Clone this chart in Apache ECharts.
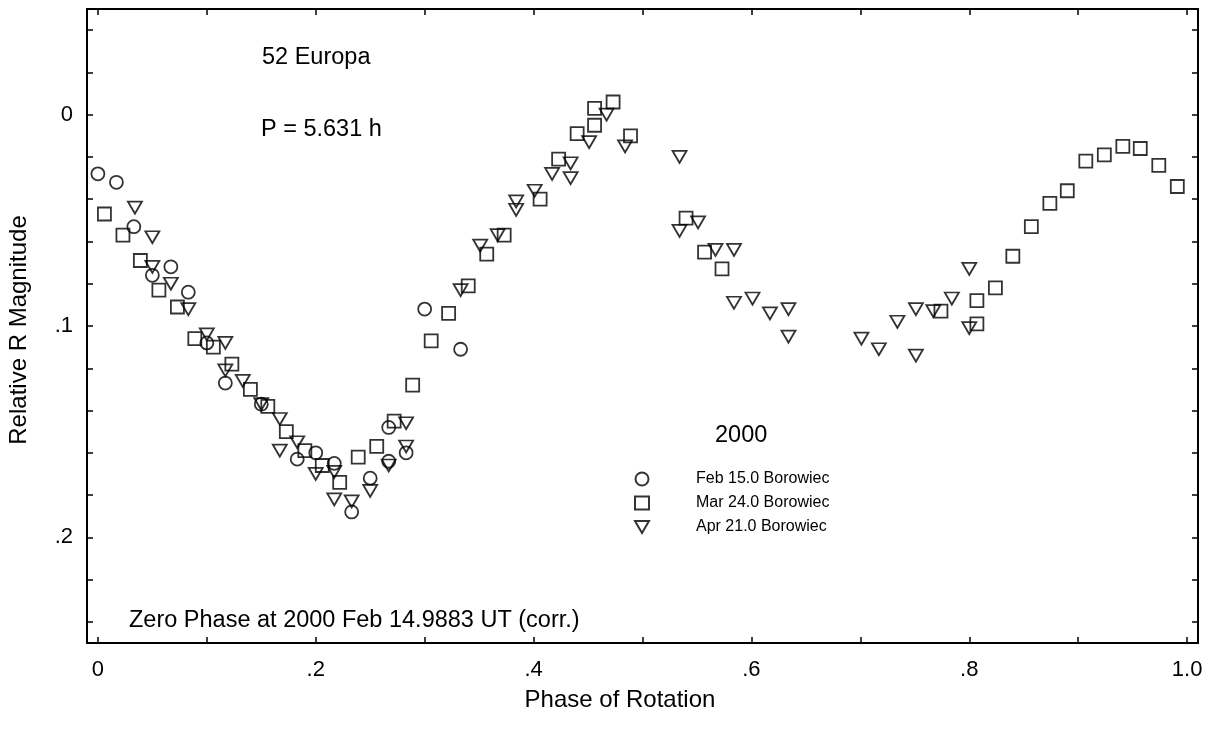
<!DOCTYPE html>
<html>
<head>
<meta charset="utf-8">
<script src="https://cdn.jsdelivr.net/npm/echarts@6/dist/echarts.min.js"></script>
<style>html,body{margin:0;padding:0;background:#fff}#c{width:1208px;height:738px}</style>
</head>
<body>
<div id="c"></div>
<script>
// Feb 15.0 Borowiec (circles)
const febPhase = [0.000, 0.017, 0.033, 0.050, 0.067, 0.083, 0.100, 0.117, 0.150, 0.183, 0.200, 0.217, 0.233, 0.250, 0.267, 0.267, 0.283, 0.300, 0.333];
const febMag   = [0.028, 0.032, 0.053, 0.076, 0.072, 0.084, 0.108, 0.127, 0.137, 0.163, 0.160, 0.165, 0.188, 0.172, 0.148, 0.164, 0.160, 0.092, 0.111];
// Mar 24.0 Borowiec (squares)
const marPhase = [0.006, 0.023, 0.039, 0.056, 0.073, 0.089, 0.106, 0.123, 0.140, 0.156, 0.173, 0.190, 0.206, 0.222, 0.239, 0.256, 0.272, 0.289, 0.306, 0.322, 0.340, 0.357, 0.373, 0.406, 0.423, 0.440, 0.456, 0.456, 0.473, 0.489, 0.540, 0.557, 0.573, 0.774, 0.807, 0.807, 0.824, 0.840, 0.857, 0.874, 0.890, 0.907, 0.924, 0.941, 0.957, 0.974, 0.991];
const marMag   = [0.047, 0.057, 0.069, 0.083, 0.091, 0.106, 0.110, 0.118, 0.130, 0.138, 0.150, 0.159, 0.166, 0.174, 0.162, 0.157, 0.145, 0.128, 0.107, 0.094, 0.081, 0.066, 0.057, 0.040, 0.021, 0.009, -0.003, 0.005, -0.006, 0.010, 0.049, 0.065, 0.073, 0.093, 0.088, 0.099, 0.082, 0.067, 0.053, 0.042, 0.036, 0.022, 0.019, 0.015, 0.016, 0.024, 0.034];
// Apr 21.0 Borowiec (down triangles)
const aprPhase = [0.034, 0.050, 0.050, 0.067, 0.083, 0.100, 0.117, 0.117, 0.133, 0.150, 0.167, 0.167, 0.183, 0.200, 0.217, 0.217, 0.233, 0.250, 0.267, 0.283, 0.283, 0.333, 0.351, 0.367, 0.384, 0.384, 0.401, 0.417, 0.434, 0.434, 0.451, 0.467, 0.484, 0.534, 0.534, 0.551, 0.567, 0.584, 0.584, 0.601, 0.617, 0.634, 0.634, 0.701, 0.717, 0.734, 0.751, 0.751, 0.767, 0.784, 0.800, 0.800];
const aprMag   = [0.044, 0.058, 0.072, 0.080, 0.092, 0.104, 0.108, 0.121, 0.126, 0.137, 0.144, 0.159, 0.155, 0.170, 0.169, 0.182, 0.183, 0.178, 0.166, 0.146, 0.157, 0.083, 0.062, 0.057, 0.045, 0.041, 0.036, 0.028, 0.023, 0.030, 0.013, 0.000, 0.015, 0.020, 0.055, 0.051, 0.064, 0.064, 0.089, 0.087, 0.094, 0.092, 0.105, 0.106, 0.111, 0.098, 0.092, 0.114, 0.093, 0.087, 0.073, 0.101];

const xTicks = [0, 0.1, 0.2, 0.3, 0.4, 0.5, 0.6, 0.7, 0.8, 0.9, 1.0];
const xLabels = [0, 0.2, 0.4, 0.6, 0.8, 1.0];
const yTicks = [-0.04, -0.02, 0, 0.02, 0.04, 0.06, 0.08, 0.10, 0.12, 0.14, 0.16, 0.18, 0.20, 0.22, 0.24];
const yLabels = [0, 0.1, 0.2];

const FONT = "'Liberation Sans', Arial, Helvetica, sans-serif";
const TF = '23.5px ' + FONT;
const zip = (a, b) => a.map((v, i) => [v, b[i]]);
const fmt = v => {
  if (Math.abs(v) < 1e-9) return '0';
  if (Math.abs(v - 1) < 1e-9) return '1.0';
  return '.' + Math.round(v * 10);
};

const axisLine = { show: true, onZero: false, lineStyle: { color: '#000', width: 2 } };
const xBase = (pos, showLabel) => ({
  type: 'value', position: pos, min: -0.01, max: 1.01,
  axisLine, splitLine: { show: false },
  axisTick: { show: true, inside: true, length: 6, customValues: xTicks, lineStyle: { color: '#000', width: 1.5 } },
  axisLabel: { show: showLabel, customValues: xLabels, formatter: fmt, margin: 16, color: '#000', fontSize: 22, fontFamily: FONT }
});
const yBase = (pos, showLabel) => ({
  type: 'value', position: pos, min: -0.05, max: 0.25, inverse: true,
  axisLine, splitLine: { show: false },
  axisTick: { show: true, inside: true, length: 6, customValues: yTicks, lineStyle: { color: '#000', width: 1.5 } },
  axisLabel: { show: showLabel, customValues: yLabels, formatter: fmt, margin: 14, color: '#000', fontSize: 22, fontFamily: FONT }
});

const sym = { color: 'rgba(0,0,0,0)', borderColor: '#000', borderWidth: 1.8 };
const chart = echarts.init(document.getElementById('c'));
chart.setOption({
  animation: false,
  backgroundColor: '#fff',
  grid: { left: 87, right: 10, top: 9, bottom: 95 },
  xAxis: [xBase('bottom', true), xBase('top', false)],
  yAxis: [yBase('left', true), yBase('right', false)],
  legend: {
    orient: 'vertical', left: 629, top: 466, itemWidth: 14, itemHeight: 13, itemGap: 8,
    textStyle: { fontSize: 16, fontFamily: FONT, color: '#000', padding: [0, 0, 0, 42] },
    data: [
      { name: 'Feb 15.0 Borowiec' },
      { name: 'Mar 24.0 Borowiec' },
      { name: 'Apr 21.0 Borowiec', icon: 'path://M0,0L14,0L7,12Z' }
    ]
  },
  series: [
    { name: 'Feb 15.0 Borowiec', type: 'scatter', symbol: 'circle', symbolSize: 13, itemStyle: sym, data: zip(febPhase, febMag) },
    { name: 'Mar 24.0 Borowiec', type: 'scatter', symbol: 'rect', symbolSize: 13, itemStyle: sym, data: zip(marPhase, marMag) },
    { name: 'Apr 21.0 Borowiec', type: 'scatter', symbol: 'triangle', symbolRotate: 180, symbolSize: [14, 12], itemStyle: sym, data: zip(aprPhase, aprMag) }
  ],
  graphic: [
    { type: 'text', style: { x: 262, y: 58, text: '52 Europa', font: TF, fill: '#000', textVerticalAlign: 'middle' } },
    { type: 'text', style: { x: 261, y: 130, text: 'P = 5.631 h', font: TF, fill: '#000', textVerticalAlign: 'middle' } },
    { type: 'text', style: { x: 715, y: 436, text: '2000', font: TF, fill: '#000', textVerticalAlign: 'middle' } },
    { type: 'text', style: { x: 129, y: 621, text: 'Zero Phase at 2000 Feb 14.9883 UT (corr.)', font: TF, fill: '#000', textVerticalAlign: 'middle' } },
    { type: 'text', style: { x: 620, y: 700, text: 'Phase of Rotation', font: '24px ' + FONT, fill: '#000', textAlign: 'center', textVerticalAlign: 'middle' } },
    { type: 'text', rotation: Math.PI / 2, x: 19, y: 330, style: { x: 0, y: 0, text: 'Relative R Magnitude', font: '24px ' + FONT, fill: '#000', textAlign: 'center', textVerticalAlign: 'middle' } }
  ]
});
</script>
</body>
</html>
